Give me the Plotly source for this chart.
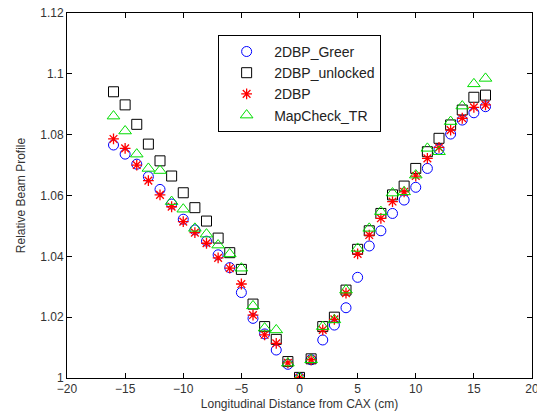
import plotly.graph_objects as go

x = list(range(-16, 17))

greer = [1.0766, 1.0736, 1.0703, 1.0662, 1.0620, 1.0572, 1.0522, 1.0487, 1.0450, 1.0405,
         1.0363, 1.0281, 1.0196, 1.0145, 1.0092, 1.0045, 1.0000, 1.0060, 1.0125, 1.0174,
         1.0231, 1.0331, 1.0434, 1.0484, 1.0541, 1.0585, 1.0627, 1.0689, 1.0752, 1.0802,
         1.0848, 1.0872, 1.0892]
unlocked = [1.0941, 1.0898, 1.0834, 1.0769, 1.0714, 1.0664, 1.0609, 1.0560, 1.0516, 1.0460,
            1.0412, 1.0357, 1.0243, 1.0169, 1.0127, 1.0054, 1.0002, 1.0063, 1.0169, 1.0200,
            1.0289, 1.0423, 1.0484, 1.0541, 1.0602, 1.0631, 1.0689, 1.0744, 1.0788, 1.0832,
            1.0881, 1.0923, 1.0930]
dbp = [1.0786, 1.0755, 1.0700, 1.0649, 1.0602, 1.0563, 1.0514, 1.0478, 1.0443, 1.0395,
       1.0361, 1.0309, 1.0207, 1.0142, 1.0114, 1.0050, 1.0001, 1.0060, 1.0158, 1.0193,
       1.0279, 1.0408, 1.0470, 1.0525, 1.0580, 1.0612, 1.0664, 1.0722, 1.0758, 1.0815,
       1.0854, 1.0890, 1.0898]
mapcheck = [1.0861, 1.0812, 1.0736, 1.0689, 1.0682, 1.0580, 1.0555, 1.0492, 1.0473, 1.0437,
            1.0408, 1.0361, 1.0237, 1.0164, 1.0158, 1.0049, 1.0001, 1.0060, 1.0169, 1.0191,
            1.0289, 1.0426, 1.0492, 1.0547, 1.0608, 1.0612, 1.0667, 1.0755, 1.0744, 1.0843,
            1.0894, 1.0967, 1.0985]

xticks = [-20, -15, -10, -5, 0, 5, 10, 15, 20]
yticks = [1.0, 1.02, 1.04, 1.06, 1.08, 1.1, 1.12]
yticktext = ["1", "1.02", "1.04", "1.06", "1.08", "1.1", "1.12"]

fig = go.Figure()
fig.add_trace(go.Scatter(x=x, y=greer, mode="markers", name="2DBP_Greer",
                         marker=dict(symbol="circle-open", size=10, color="#0000ff",
                                     line=dict(width=1, color="#0000ff"))))
fig.add_trace(go.Scatter(x=x, y=unlocked, mode="markers", name="2DBP_unlocked",
                         marker=dict(symbol="square-open", size=10, color="#000000",
                                     line=dict(width=1, color="#000000"))))
fig.add_trace(go.Scatter(x=x, y=dbp, mode="markers", name="2DBP",
                         marker=dict(symbol="asterisk-open", size=9, color="#ff0000",
                                     line=dict(width=1.3, color="#ff0000"))))
fig.add_trace(go.Scatter(x=x, y=mapcheck, mode="markers", name="MapCheck_TR",
                         marker=dict(symbol="triangle-up-open", size=11, color="#00dd00",
                                     line=dict(width=1, color="#00dd00"))))

axis_common = dict(showline=True, linecolor="black", linewidth=1, mirror="ticks",
                   ticks="inside", ticklen=5, tickcolor="black", showgrid=False,
                   zeroline=False, automargin=False, ticklabeloverflow="allow",
                   tickfont=dict(size=12, color="#333333"))

fig.update_layout(
    width=537, height=419,
    margin=dict(l=67, r=5, t=13, b=41),
    paper_bgcolor="white", plot_bgcolor="white",
    font=dict(family="Liberation Sans, Arial, sans-serif", size=12, color="#333333"),
    showlegend=True,
    legend=dict(x=0.325, y=0.94, xanchor="left", yanchor="top",
                bordercolor="black", borderwidth=1, bgcolor="white",
                itemwidth=45,
                font=dict(size=14, color="#222222"), tracegroupgap=0),
    xaxis=dict(range=[-20, 20], tickvals=xticks,
               title=dict(text="Longitudinal Distance from CAX (cm)", standoff=4,
                          font=dict(size=12, color="#333333")),
               **axis_common),
    yaxis=dict(range=[1.0, 1.12], tickvals=yticks, ticktext=yticktext,
               title=dict(text="Relative Beam Profile", standoff=12,
                          font=dict(size=12, color="#333333")),
               **axis_common),
)

fig.write_html("out.html",
               config={"displayModeBar": False},
               post_script="document.body.style.margin='0';document.body.style.padding='0';")
